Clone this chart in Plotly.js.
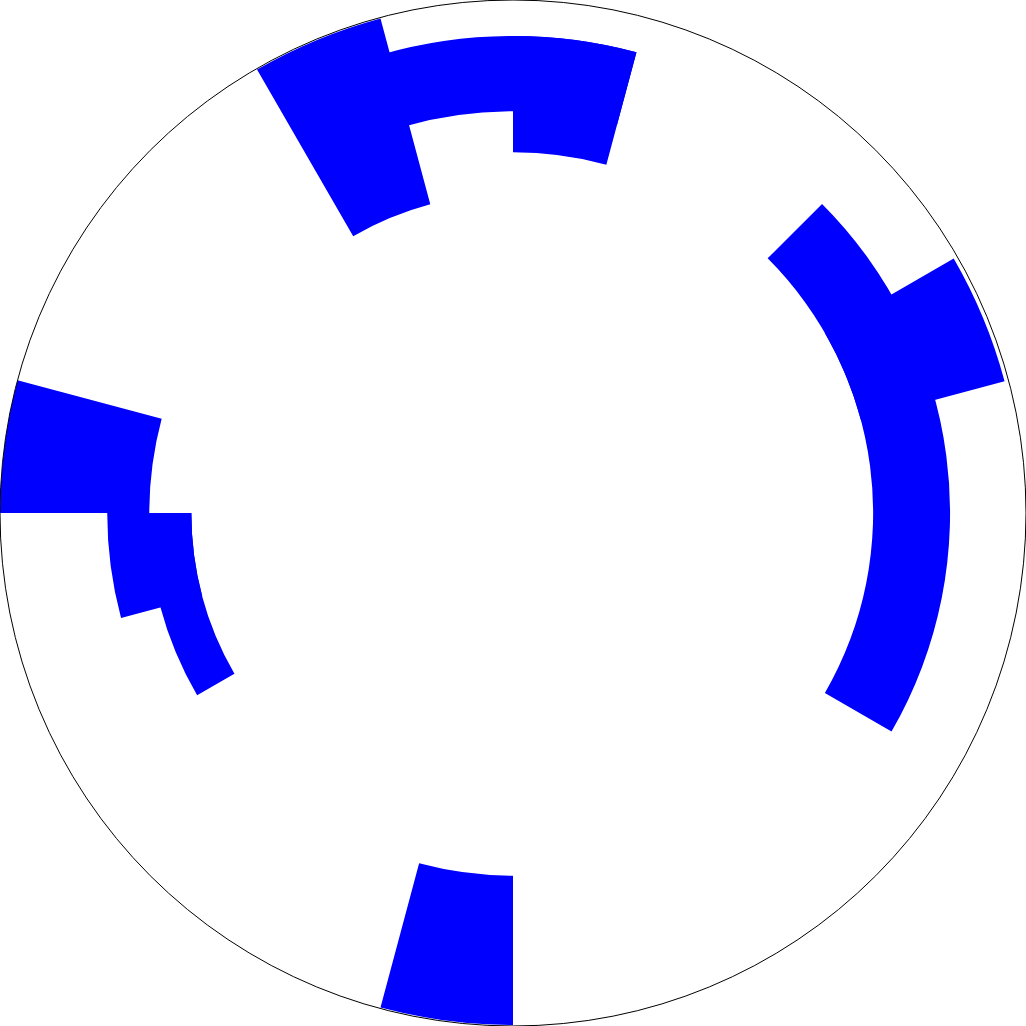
<!DOCTYPE html>
<html>
<head>
<meta charset="utf-8">
<script src="https://cdn.plot.ly/plotly-3.0.1.min.js"></script>
<style>html,body{margin:0;padding:0;background:#fff;}#chart{width:1026px;height:1026px;}</style>
</head>
<body>
<div id="chart"></div>
<script>
// Bar centres (degrees) and angular widths (degrees)
var thetaDeg = [7.5, 22.5, 90.5, 82.5, 112.5, 262.5, 172.5, 195, 187.5];
var widths   = [75, 15, 31, 15, 15, 15, 15, 30, 15];
// Bar start (base) and length (r), radial axis 0..100
var baseVals = [70.2, 70.2, 78.3, 70.3, 62.3, 70.7, 70.9, 62.7, 62.7];
var rVals    = [15.0, 29.0, 14.7, 22.7, 37.5, 29.1, 29.1, 8.4, 16.4];

var trace = {
  type: 'barpolar',
  theta: thetaDeg,
  r: rVals,
  base: baseVals,
  width: widths,
  marker: {color: '#0000ff', line: {width: 0}},
  hoverinfo: 'none'
};

var layout = {
  width: 1026, height: 1026,
  margin: {l: 0, r: 0, t: 0, b: 0, pad: 0},
  paper_bgcolor: '#ffffff',
  showlegend: false,
  polar: {
    domain: {x: [0, 1], y: [0, 1]},
    bgcolor: '#ffffff',
    radialaxis: {range: [0, 100], visible: false, showgrid: false, showline: false},
    angularaxis: {
      showline: true, linecolor: '#000000', linewidth: 1,
      showgrid: false, showticklabels: false, ticks: '',
      direction: 'counterclockwise', rotation: 0
    }
  }
};

Plotly.newPlot('chart', [trace], layout, {displayModeBar: false, staticPlot: true});
</script>
</body>
</html>
